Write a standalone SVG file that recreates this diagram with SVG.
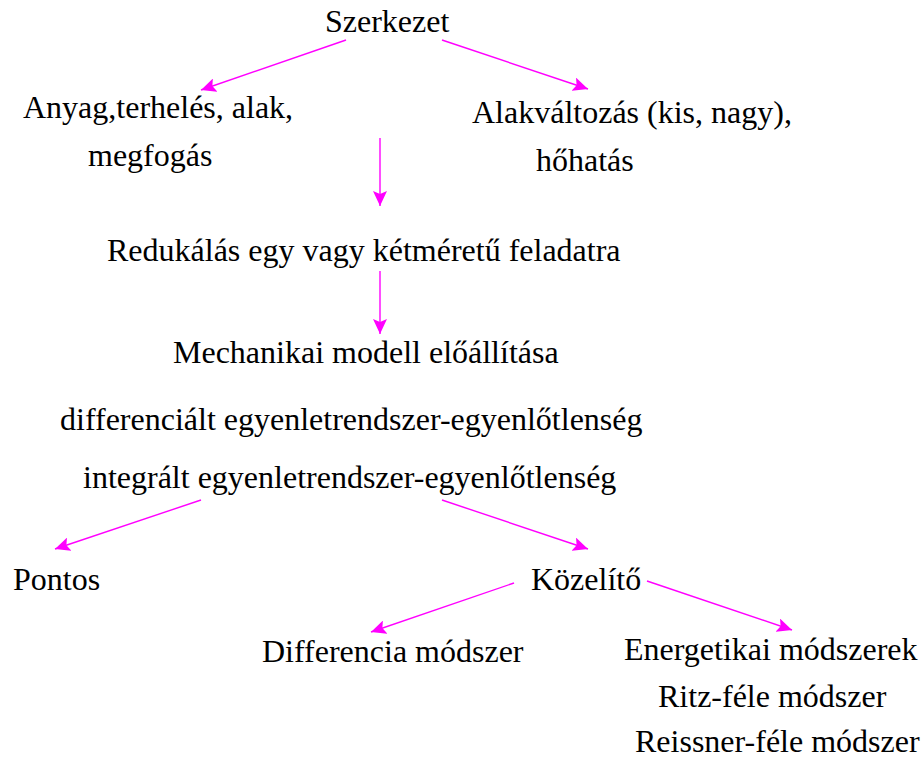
<svg xmlns="http://www.w3.org/2000/svg" width="923" height="760" viewBox="0 0 923 760">
<defs>
<style>
text{font-family:"Liberation Serif","Times New Roman",serif;font-size:32px;fill:#000}
.c line{stroke:#ff00ff;stroke-width:1.4;marker-end:url(#ah)}
</style>
<marker id="ah" markerUnits="userSpaceOnUse" markerWidth="16" markerHeight="14" refX="15" refY="7" orient="auto">
<path d="M0,0 L15,7 L0,14 L3,7 Z" fill="#ff00ff"/>
</marker>
</defs>
<rect width="923" height="760" fill="#fff"/>
<g id="n-szerkezet"><text x="325" y="32">Szerkezet</text></g>
<g id="n-anyag"><text x="23" y="118">Anyag,terhelés, alak,</text><text x="88" y="166">megfogás</text></g>
<g id="n-alakvaltozas"><text x="472" y="123">Alakváltozás (kis, nagy),</text><text x="536" y="171">hőhatás</text></g>
<g id="n-redukalas"><text x="107" y="261">Redukálás egy vagy kétméretű feladatra</text></g>
<g id="n-mechanikai"><text x="173" y="363">Mechanikai modell előállítása</text></g>
<g id="n-differencialt"><text x="60" y="430">differenciált egyenletrendszer-egyenlőtlenség</text></g>
<g id="n-integralt"><text x="83" y="488">integrált egyenletrendszer-egyenlőtlenség</text></g>
<g id="n-pontos"><text x="13" y="590">Pontos</text></g>
<g id="n-kozelito"><text x="531" y="590">Közelítő</text></g>
<g id="n-differencia"><text x="262" y="662">Differencia módszer</text></g>
<g id="n-energetikai"><text x="624" y="660">Energetikai módszerek</text><text x="658" y="707">Ritz-féle módszer</text><text x="635" y="752">Reissner-féle módszer</text></g>
<g class="c" id="connectors">
<line x1="346" y1="40" x2="201" y2="90"/>
<line x1="442" y1="40" x2="588" y2="89"/>
<line x1="380" y1="138" x2="380" y2="206"/>
<line x1="380" y1="271" x2="380" y2="334"/>
<line x1="201" y1="500" x2="55" y2="549"/>
<line x1="442" y1="500" x2="588" y2="549"/>
<line x1="514" y1="583" x2="371" y2="632"/>
<line x1="647" y1="581" x2="792" y2="630"/>
</g>
</svg>
